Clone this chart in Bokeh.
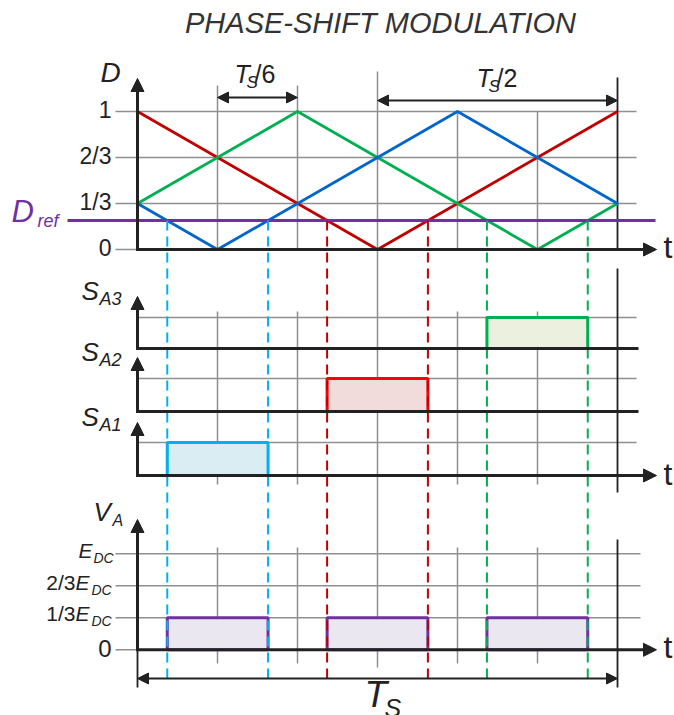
from bokeh.plotting import figure
from bokeh.models import Range1d, Arrow, NormalHead, Label
from bokeh.embed import file_html
from bokeh.resources import INLINE

# ---------------- data ----------------
red_t = [0, 1/2, 1]
red_d = [1, 0, 1]
green_t = [0, 1/3, 5/6, 1]
green_d = [1/3, 1, 0, 1/3]
blue_t = [0, 1/6, 2/3, 1]
blue_d = [1/3, 0, 1, 1/3]
d_ref = 0.21
d_ticks = [0, 1/3, 2/3, 1]
d_tick_labels = ["0", "1/3", "2/3", "1"]
grid_t = [1/6, 2/6, 3/6, 4/6, 5/6]

sa1_on, sa1_off = [0.062], [0.272]
sa2_on, sa2_off = [0.395], [0.605]
sa3_on, sa3_off = [0.728], [0.938]

va_on = [0.062, 0.395, 0.728]
va_off = [0.272, 0.605, 0.938]
va_level = [1/3, 1/3, 1/3]
v_ticks = [0, 1/3, 2/3, 1]

FONT = "Liberation Sans"
BLACK = "#222222"
GRAY = "#8f8f8f"
RED = "#c00000"
GREEN = "#00b050"
BLUE = "#0066cc"
CYAN = "#00b0f0"
PURPLE = "#7030a0"

W, H = 674, 715
T0, TS = 137.0, 480.0
def tx(px):
    return (px - T0) / TS

def rng(v0, py0, k):
    return Range1d(start=v0 - (H - py0) / k, end=v0 + py0 / k)

p = figure(width=W, height=H, x_range=Range1d(tx(0), tx(W)),
           y_range=Range1d(H, 0), output_backend="svg",
           toolbar_location=None, min_border=0, title=None)
p.axis.visible = False
p.grid.visible = False
p.outline_line_color = None
p.background_fill_color = "white"

p.extra_y_ranges = {
    "D": rng(0, 249, 138),
    "S3": rng(0, 348, 31),
    "S2": rng(0, 411, 33),
    "S1": rng(0, 475, 33),
    "V": rng(0, 649.3, 96),
}

# ---------------- grids ----------------
p.segment(x0=[tx(115)] * 3, x1=[tx(636)] * 3, y0=d_ticks[1:], y1=d_ticks[1:],
          y_range_name="D", line_color=GRAY, line_width=1.5)
p.segment(x0=[tx(115)], x1=[0], y0=[0], y1=[0], y_range_name="D",
          line_color=GRAY, line_width=1.5)
p.segment(x0=[tx(115)] * 3, x1=[tx(640)] * 3, y0=v_ticks[1:], y1=v_ticks[1:],
          y_range_name="V", line_color=GRAY, line_width=1.5)
p.segment(x0=[tx(115)], x1=[0], y0=[0], y1=[0], y_range_name="V",
          line_color=GRAY, line_width=1.5)
for rn in ["S1", "S2", "S3"]:
    p.segment(x0=[0], x1=[tx(636)], y0=[1], y1=[1], y_range_name=rn,
              line_color=GRAY, line_width=1.5)

top_y0 = {1/6: 85, 2/6: 85, 4/6: 111, 5/6: 111}
for gt in grid_t:
    if abs(gt - 0.5) < 1e-9:
        p.segment(x0=[gt], x1=[gt], y0=[71], y1=[667], line_color=GRAY, line_width=1.5)
        continue
    key = min(top_y0, key=lambda k: abs(k - gt))
    p.segment(x0=[gt], x1=[gt], y0=[top_y0[key]], y1=[249], line_color=GRAY, line_width=1.5)
    p.segment(x0=[gt], x1=[gt], y0=[311], y1=[484], line_color=GRAY, line_width=1.5)
    p.segment(x0=[gt], x1=[gt], y0=[547], y1=[663], line_color=GRAY, line_width=1.5)
p.segment(x0=[1, 1, 1], x1=[1, 1, 1], y0=[77, 268, 539], y1=[249, 492, 687],
          line_color=BLACK, line_width=1.8)

# ---------------- pulses ----------------
p.quad(left=sa1_on, right=sa1_off, bottom=[0], top=[1], y_range_name="S1",
       fill_color="#daedf3", line_color=CYAN, line_width=3)
p.quad(left=sa2_on, right=sa2_off, bottom=[0], top=[1], y_range_name="S2",
       fill_color="#f2dcdb", line_color="#ff0000", line_width=3)
p.quad(left=sa3_on, right=sa3_off, bottom=[0], top=[1], y_range_name="S3",
       fill_color="#ebf1de", line_color=GREEN, line_width=3)
p.quad(left=va_on, right=va_off, bottom=[0] * 3, top=va_level, y_range_name="V",
       fill_color="#ebe7f0", line_color=PURPLE, line_width=3)

# ---------------- carriers ----------------
p.line(red_t, red_d, y_range_name="D", line_color=RED, line_width=2.8)
p.line(green_t, green_d, y_range_name="D", line_color=GREEN, line_width=2.8)
p.line(blue_t, blue_d, y_range_name="D", line_color=BLUE, line_width=2.8)
p.segment(x0=[tx(67)], x1=[tx(655)], y0=[d_ref], y1=[d_ref], y_range_name="D",
          line_color=PURPLE, line_width=3)

dash_bottom = (249 - 679) / 138.0
for on, off, col in [(sa1_on, sa1_off, CYAN), (sa2_on, sa2_off, RED), (sa3_on, sa3_off, GREEN)]:
    xs = on + off
    p.segment(x0=xs, x1=xs, y0=[d_ref] * len(xs), y1=[dash_bottom] * len(xs),
              y_range_name="D", line_color=col, line_width=2, line_dash="10 6")

# ---------------- axes ----------------
def head(size=13):
    return NormalHead(size=size, fill_color=BLACK, line_color=BLACK, line_width=1)

def arrow(x0, y0, x1, y1, w=3, start=False, size=13):
    a = Arrow(x_start=x0, y_start=y0, x_end=x1, y_end=y1, line_color=BLACK,
              line_width=w, end=head(size), start=head(size) if start else None)
    p.add_layout(a)

arrow(0, 250.5, 0, 78)
arrow(-0.003, 249, tx(656), 249)
arrow(0, 349.5, 0, 296)
p.segment(x0=[0], x1=[tx(638)], y0=[348], y1=[348], line_color=BLACK, line_width=3)
arrow(0, 412.5, 0, 357)
p.segment(x0=[0], x1=[tx(638)], y0=[411], y1=[411], line_color=BLACK, line_width=3)
arrow(0, 476.5, 0, 422)
arrow(-0.003, 475, tx(656), 475)
p.segment(x0=[0], x1=[0], y0=[649], y1=[687], line_color=BLACK, line_width=1.8)
arrow(0, 650.5, 0, 519)
arrow(-0.003, 649.3, tx(656), 649.3)

arrow(1/6, 97, 2/6, 97, w=2, start=True, size=11)
arrow(1/2, 100, 1, 100, w=2, start=True, size=11)
arrow(0, 678, 1, 678, w=2, start=True, size=11)

# ---------------- texts ----------------
def L(px, py, text, size, italic=False, color=BLACK, align="left"):
    p.add_layout(Label(x=tx(px), y=py - 0.43 * size, text=text, text_font=FONT,
                       text_font_size=f"{size}px",
                       text_font_style="italic" if italic else "normal",
                       text_color=color, text_align=align,
                       text_baseline="alphabetic"))

L(380, 35, "PHASE-SHIFT MODULATION", 29, True, "#333333", "center")
L(100, 84, "D", 28, True)
d_label_y = {0: 257, 1/3: 211, 2/3: 165, 1: 119}
for v, lab in zip(d_ticks, d_tick_labels):
    L(111, d_label_y[v], lab, 23, align="right")
L(11, 224, "D", 31, True, PURPLE)
L(37, 228, "ref", 18, True, PURPLE)

L(234, 84, "T", 25, True)
L(246, 89, "S", 17, True)
L(254, 84, "/6", 25)
L(476, 88, "T", 25, True)
L(488, 93, "S", 17, True)
L(496, 88, "/2", 25)

for sy, sub in [(302, "A3"), (363, "A2"), (428, "A1")]:
    L(81, sy, "S", 26, True)
    L(99, sy + 4, sub, 18, True)

L(93, 523, "V", 26, True)
L(112, 527, "A", 16, True)

L(78, 559, "E", 21, True)
L(93, 564, "DC", 14, True)
for ry, frac in [(591, "2/3"), (622, "1/3")]:
    L(75, ry, frac, 21, align="right")
    L(75, ry, "E", 21, True)
    L(91, ry + 5, "DC", 14, True)
L(111, 658, "0", 24, align="right")

for ty in [260, 487, 660]:
    L(663, ty, "t", 32)

L(364, 710, "T", 37, True)
L(384, 718, "S", 25, True)

open("out.html", "w").write(file_html(p, INLINE))
